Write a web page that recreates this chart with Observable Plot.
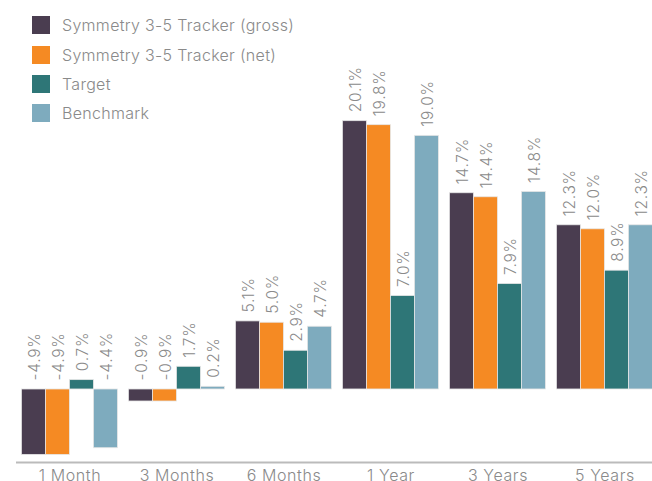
<!DOCTYPE html>
<html>
<head>
<meta charset="utf-8">
<script src="https://cdn.jsdelivr.net/npm/d3@7"></script>
<script src="https://cdn.jsdelivr.net/npm/@observablehq/plot@0.6"></script>
<style>
  html, body { margin: 0; padding: 0; background: #fff; overflow: hidden; }
  #wrap { position: relative; width: 652px; height: 481px; }
  #legend { position: absolute; left: 32px; top: 10.5px; font-family: Inter, sans-serif; font-weight: 300; font-size: 16px; letter-spacing: 0.3px; color: #8a8a8a; }
  .item { display: flex; align-items: center; height: 29.4px; }
  .sw { width: 18px; height: 18px; margin-right: 12px; flex: none; }
  svg g[aria-label="text"] text { letter-spacing: 0.7px; }
  svg g[aria-label="fx-axis"] text, svg g[aria-label^="fx-axis"] text { letter-spacing: 0.6px; }
</style>
</head>
<body>
<div id="wrap"><div id="legend"></div></div>
<script>
const periods = ["1 Month", "3 Months", "6 Months", "1 Year", "3 Years", "5 Years"];
const seriesNames = ["Symmetry 3-5 Tracker (gross)", "Symmetry 3-5 Tracker (net)", "Target", "Benchmark"];
const gross = [-4.9, -0.9, 5.1, 20.1, 14.7, 12.3];
const net = [-4.9, -0.9, 5.0, 19.8, 14.4, 12.0];
const target = [0.7, 1.7, 2.9, 7.0, 7.9, 8.9];
const benchmark = [-4.4, 0.2, 4.7, 19.0, 14.8, 12.3];
const colors = ["#4a3d50", "#f58a23", "#2e7677", "#7eabbe"];

const seriesValues = [gross, net, target, benchmark];
const data = [];
periods.forEach((p, i) => {
  seriesNames.forEach((s, j) => {
    data.push({period: p, series: s, value: seriesValues[j][i]});
  });
});

const legend = document.getElementById("legend");
seriesNames.forEach((s, j) => {
  const d = document.createElement("div");
  d.className = "item";
  d.innerHTML = `<span class="sw" style="background:${colors[j]}"></span><span>${s}</span>`;
  legend.appendChild(d);
});

const chart = Plot.plot({
  width: 652,
  height: 481,
  marginTop: 0,
  marginBottom: 19,
  marginLeft: 13.6,
  marginRight: 0,
  style: {fontFamily: "Inter, sans-serif", fontSize: "16px", fontWeight: 300, color: "#8a8a8a", background: "transparent"},
  fx: {domain: periods, range: [13.6, 659.8], padding: 0, label: null, tickSize: 0, tickPadding: 7},
  x: {domain: seriesNames, paddingInner: 0, paddingOuter: 0.21, axis: null},
  y: {domain: [-5.47, 29.14], axis: null},
  color: {domain: seriesNames, range: colors},
  facet: {data: data, x: "period"},
  marks: [
    Plot.barY(data, {x: "series", y: "value", fill: "series", stroke: "#e6e6e6", strokeWidth: 0.8}),
    Plot.text(data, {x: "series", y: d => Math.max(0, d.value), text: d => d.value.toFixed(1) + "%", rotate: -90, textAnchor: "start", lineAnchor: "middle", dy: -9, dx: 1, fill: "#8a8a8a", fontSize: 15.5}),
    Plot.ruleY([-5.47], {stroke: "#bbbbbb", strokeWidth: 2})
  ]
});
document.getElementById("wrap").prepend(chart);
chart.style.position = "absolute";
chart.style.left = "0";
chart.style.top = "0";
</script>
</body>
</html>
